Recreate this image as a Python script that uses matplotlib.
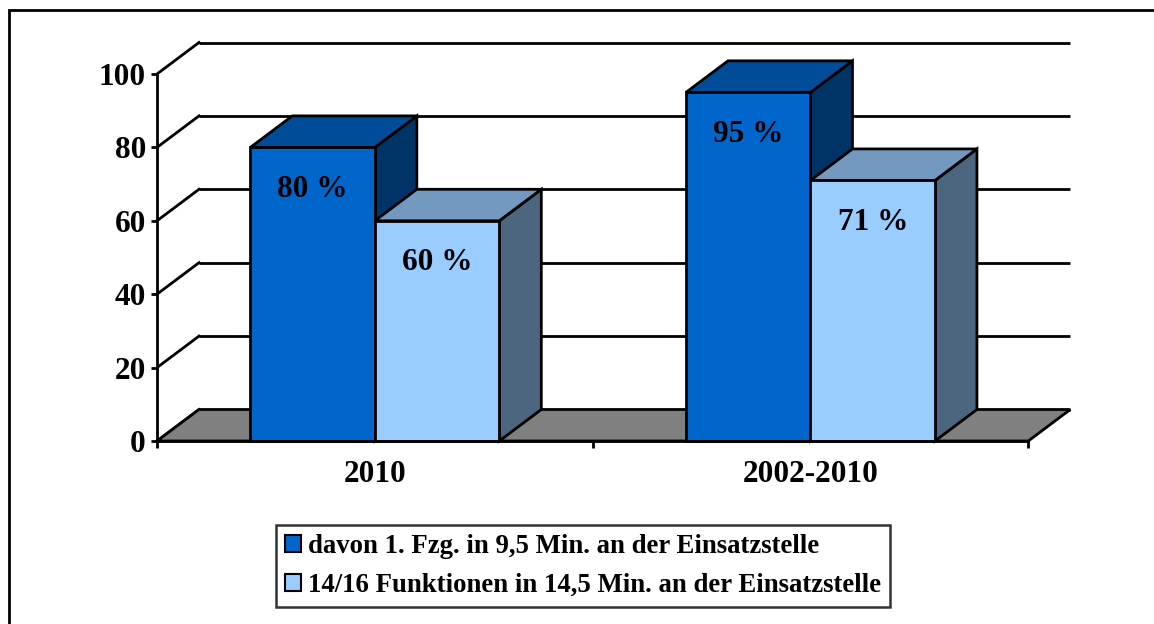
import matplotlib
matplotlib.use("Agg")
import matplotlib.pyplot as plt
from matplotlib.patches import Polygon, Rectangle, Patch

# ---- data ----
categories = ["2010", "2002-2010"]
series_names = ["davon 1. Fzg. in 9,5 Min. an der Einsatzstelle",
                "14/16 Funktionen in 14,5 Min. an der Einsatzstelle"]
series_values = [[80, 95],   # davon 1. Fzg.
                 [60, 71]]   # 14/16 Funktionen
value_labels = [["80 %", "95 %"], ["60 %", "71 %"]]
yticks = [0, 20, 40, 60, 80, 100]

# ---- styles ----
front_cols = ["#0066CC", "#99CCFF"]
top_cols = ["#004C99", "#7399C0"]
side_cols = ["#003366", "#4D6680"]
floor_col = "#808080"
FONT = "Liberation Serif"
plt.rcParams["font.family"] = FONT
plt.rcParams["font.weight"] = "bold"

W, H = 1154, 624
fig = plt.figure(figsize=(W / 100, H / 100), dpi=100)
x0_px, x1_px, y0_px, y100_px = 157, 1028.3, 441, 74
ax = fig.add_axes([x0_px / W, 1 - y0_px / H, (x1_px - x0_px) / W, (y0_px - y100_px) / H])
ncat = len(categories)
ax.set_xlim(0, ncat)
ax.set_ylim(0, 100)

# depth offsets in data units
px_x = (x1_px - x0_px) / ncat
px_y = (y0_px - y100_px) / 100
ddx = 42 / px_x
ddy = 31.5 / px_y

lw = 2.0
# back wall + left wall gridlines
for t in yticks:
    ax.plot([ddx, ncat + ddx], [t + ddy, t + ddy], color="black", lw=lw, clip_on=False, zorder=1,
            solid_capstyle="butt")
    ax.plot([0, ddx], [t, t + ddy], color="black", lw=lw, clip_on=False, zorder=1)

# floor
ax.add_patch(Polygon([(0, 0), (ncat, 0), (ncat + ddx, ddy), (ddx, ddy)], closed=True,
                     facecolor=floor_col, edgecolor="black", lw=lw, clip_on=False, zorder=2,
                     joinstyle="miter"))

# bars (Excel gap width 150% -> bar width 1/3.5)
nser = len(series_values)
bw = 1 / (nser + 1.5)
z = 3
for ci in range(ncat):
    for si in range(nser):
        v = series_values[si][ci]
        left = ci + 0.5 - nser * bw / 2 + si * bw
        right = left + bw
        front = [(left, 0), (right, 0), (right, v), (left, v)]
        top = [(left, v), (right, v), (right + ddx, v + ddy), (left + ddx, v + ddy)]
        side = [(right, 0), (right + ddx, ddy), (right + ddx, v + ddy), (right, v)]
        for pts, col in ((side, side_cols[si]), (top, top_cols[si]), (front, front_cols[si])):
            ax.add_patch(Polygon(pts, closed=True, facecolor=col, edgecolor="black", lw=lw,
                                 clip_on=False, zorder=z, joinstyle="miter"))
            z += 0.01
        ax.annotate(value_labels[si][ci], xy=((left + right) / 2, v), xytext=(0, -30),
                    textcoords="offset points", ha="center", va="center",
                    fontsize=22.5, fontweight="bold", zorder=z + 1)
        z += 0.1

# axes decoration
for s in ["top", "right"]:
    ax.spines[s].set_visible(False)
for s in ["left", "bottom"]:
    ax.spines[s].set_linewidth(lw)
    ax.spines[s].set_zorder(50)
ax.set_yticks(yticks)
ax.set_yticklabels([str(t) for t in yticks], fontsize=22.5, fontweight="bold")
ax.tick_params(axis="y", direction="out", length=4, width=lw, pad=4)
ax.set_xticks(range(ncat + 1))
ax.set_xticklabels([""] * (ncat + 1))
ax.set_xticks([i + 0.5 for i in range(ncat)], minor=True)
ax.set_xticklabels(categories, minor=True, fontsize=22.5, fontweight="bold")
ax.tick_params(axis="x", which="major", direction="out", length=5, width=lw)
ax.tick_params(axis="x", which="minor", length=0, pad=14)
ax.patch.set_visible(False)

# legend
handles = [Patch(facecolor=front_cols[i], edgecolor="black", lw=1.5) for i in range(nser)]
leg = fig.legend(handles, series_names, loc="center", bbox_to_anchor=(583 / W, 1 - 566 / H),
                 prop={"family": FONT, "weight": "bold", "size": 19.3}, frameon=True,
                 fancybox=False, edgecolor="black", handlelength=0.6, handleheight=0.6,
                 handletextpad=0.25, borderpad=0.35, labelspacing=0.5, borderaxespad=0)
leg.get_frame().set_linewidth(1.8)

# outer border (only left and top visible)
fig.add_artist(Rectangle((9 / W, -0.1), 1.2, 1 - 10 / H + 0.1, transform=fig.transFigure,
                         fill=False, edgecolor="black", lw=2, clip_on=False))

fig.savefig("out.png", dpi=100)
